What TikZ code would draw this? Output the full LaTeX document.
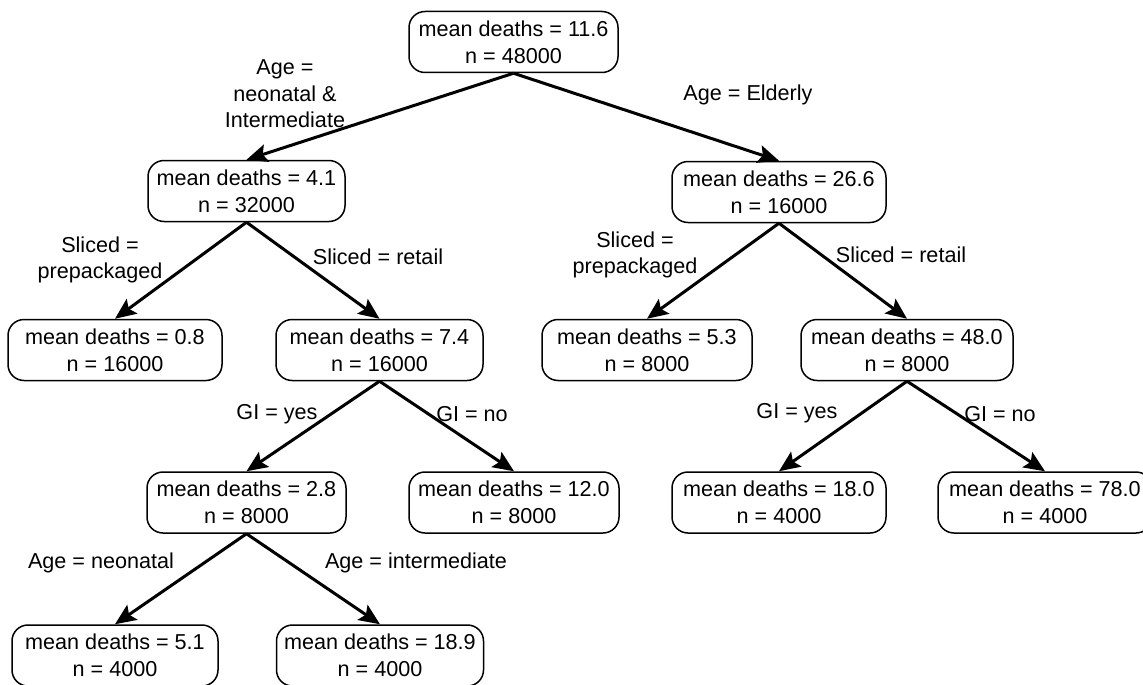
\documentclass[tikz,border=0pt]{standalone}
\usepackage{fontspec}
\setmainfont{Liberation Sans}
\usetikzlibrary{arrows.meta}
\tikzset{
  box/.style={draw, line width=1.5pt, rounded corners=16pt, align=center,
    minimum height=61pt, inner sep=0pt, font=\fontsize{21.6}{27}\selectfont},
  lbl/.style={align=center, inner sep=0pt, font=\fontsize{21.6}{26.5}\selectfont},
  edge/.style={line width=3pt, -{Stealth[length=21pt,width=18pt,inset=4pt]}}
}
\begin{document}
\begin{tikzpicture}[x=1pt,y=-1pt]
\useasboundingbox (0,0) rectangle (1143,685);
% nodes
\node[box, minimum width=209pt] (root) at (513.5,42) {mean deaths = 11.6\\n = 48000};
\node[box, minimum width=197pt] (n41) at (246.5,191) {mean deaths = 4.1\\n = 32000};
\node[box, minimum width=214pt] (n266) at (779,192) {mean deaths = 26.6\\n = 16000};
\node[box, minimum width=214pt] (n08) at (115,350) {mean deaths = 0.8\\n = 16000};
\node[box, minimum width=207pt] (n74) at (379.5,350) {mean deaths = 7.4\\n = 16000};
\node[box, minimum width=210pt] (n53) at (647,350) {mean deaths = 5.3\\n = 8000};
\node[box, minimum width=212pt] (n480) at (907,350) {mean deaths = 48.0\\n = 8000};
\node[box, minimum width=199pt] (n28) at (246.5,502.5) {mean deaths = 2.8\\n = 8000};
\node[box, minimum width=210pt] (n120) at (514,502.5) {mean deaths = 12.0\\n = 8000};
\node[box, minimum width=214pt] (n180) at (779,502.5) {mean deaths = 18.0\\n = 4000};
\node[box, minimum width=214pt] (n780) at (1045,502.5) {mean deaths = 78.0\\n = 4000};
\node[box, minimum width=206pt] (n51) at (115,655.5) {mean deaths = 5.1\\n = 4000};
\node[box, minimum width=207pt] (n189) at (380,655.5) {mean deaths = 18.9\\n = 4000};
% edges
\draw[edge] (root.south) -- (n41.north);
\draw[edge] (root.south) -- (n266.north);
\draw[edge] (n41.south) -- (n08.north);
\draw[edge] (n41.south) -- (n74.north);
\draw[edge] (n266.south) -- (n53.north);
\draw[edge] (n266.south) -- (n480.north);
\draw[edge] (n74.south) -- (n28.north);
\draw[edge] (n74.south) -- (n120.north);
\draw[edge] (n480.south) -- (n180.north);
\draw[edge] (n480.south) -- (n780.north);
\draw[edge] (n28.south) -- (n51.north);
\draw[edge] (n28.south) -- (n189.north);
% labels
\node[lbl] (l1) at (285,94) {Age =\\neonatal \&\\Intermediate};
\node[lbl] (l2) at (748,95) {Age = Elderly};
\node[lbl] (l3) at (100,260) {Sliced =\\prepackaged};
\node[lbl] (l4) at (378,257) {Sliced = retail};
\node[lbl] (l5) at (635,255) {Sliced =\\prepackaged};
\node[lbl] (l6) at (901,255) {Sliced = retail};
\node[lbl] (l7) at (277,414) {GI = yes};
\node[lbl] (l8) at (472,414) {GI = no};
\node[lbl] (l9) at (797,413) {GI = yes};
\node[lbl] (l10) at (1000,414) {GI = no};
\node[lbl] (l11) at (101,563) {Age = neonatal};
\node[lbl] (l12) at (416,563) {Age = intermediate};
\end{tikzpicture}
\end{document}
